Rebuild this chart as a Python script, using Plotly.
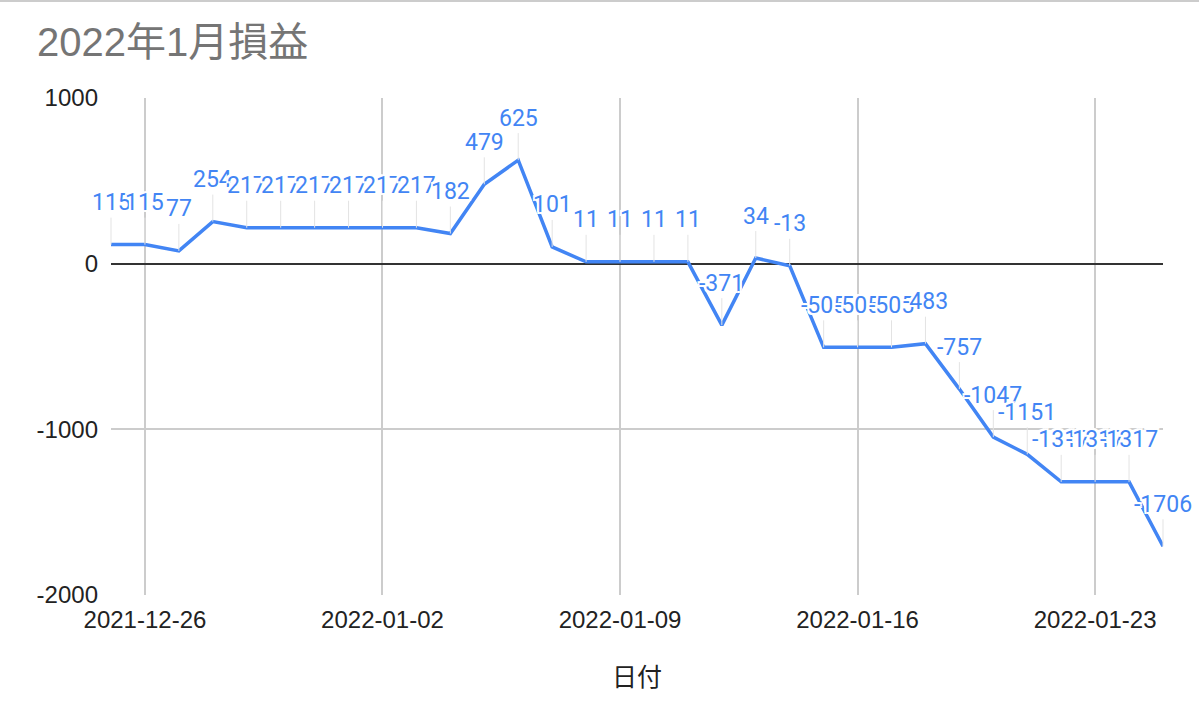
import plotly.graph_objects as go

# 日付と累計損益
dates = [
    "2021-12-25", "2021-12-26", "2021-12-27", "2021-12-28", "2021-12-29",
    "2021-12-30", "2021-12-31", "2022-01-01", "2022-01-02", "2022-01-03",
    "2022-01-04", "2022-01-05", "2022-01-06", "2022-01-07", "2022-01-08",
    "2022-01-09", "2022-01-10", "2022-01-11", "2022-01-12", "2022-01-13",
    "2022-01-14", "2022-01-15", "2022-01-16", "2022-01-17", "2022-01-18",
    "2022-01-19", "2022-01-20", "2022-01-21", "2022-01-22", "2022-01-23",
    "2022-01-24", "2022-01-25",
]
pnl = [
    115, 115, 77, 254, 217,
    217, 217, 217, 217, 217,
    182, 479, 625, 101, 11,
    11, 11, 11, -371, 34,
    -13, -505, -505, -505, -483,
    -757, -1047, -1151, -1317, -1317,
    -1317, -1706,
]

y_ticks = [1000, 0, -1000, -2000]
y_tick_labels = ["1000", "0", "-1000", "-2000"]

title_text = "2022年1月損益"
x_title = "日付"

BLUE = "#4285F4"
BASE_FONT = "Liberation Sans, Arial, Noto Sans CJK JP, sans-serif"
HALO = ("2px 0 0 white, -2px 0 0 white, 0 2px 0 white, 0 -2px 0 white, "
        "2px 2px 0 white, -2px -2px 0 white, 2px -2px 0 white, -2px 2px 0 white")

fig = go.Figure()

fig.add_trace(go.Scatter(
    x=dates,
    y=pnl,
    mode="lines",
    line=dict(color=BLUE, width=3.5),
    hoverinfo="x+y",
    showlegend=False,
))

# データラベル（引き出し線つき）
annotations = []
for d, v in zip(dates, pnl):
    annotations.append(dict(
        x=d, y=v, xref="x", yref="y",
        text=str(v),
        showarrow=True, arrowhead=0, arrowwidth=1, arrowcolor="#e3e3e3",
        ax=0, ay=-42, standoff=0,
        font=dict(family="Roboto, sans-serif", size=23, color=BLUE, shadow=HALO),
    ))

fig.update_layout(
    width=1199,
    height=724,
    margin=dict(l=111, r=36, t=98, b=129),
    paper_bgcolor="white",
    plot_bgcolor="white",
    font=dict(family=BASE_FONT, size=24, color="#222222"),
    title=dict(
        text=title_text,
        x=37 / 1199, xref="container", xanchor="left",
        y=1 - 42 / 724, yref="container", yanchor="middle",
        font=dict(family=BASE_FONT, size=40, color="#757575"),
    ),
    xaxis=dict(
        type="date",
        range=["2021-12-25", "2022-01-25"],
        tick0="2021-12-26",
        dtick=7 * 24 * 3600 * 1000,
        tickformat="%Y-%m-%d",
        showgrid=True,
        gridcolor="#cccccc",
        gridwidth=1.5,
        showline=False,
        zeroline=False,
        ticklabelstandoff=8,
        title=dict(text=x_title, standoff=36, font=dict(size=25, color="#222222")),
    ),
    yaxis=dict(
        range=[-2000, 1000],
        tickvals=y_ticks,
        ticktext=y_tick_labels,
        showgrid=True,
        gridcolor="#cccccc",
        gridwidth=1.5,
        zeroline=True,
        zerolinecolor="#333333",
        zerolinewidth=1.5,
        showline=False,
        ticklabelstandoff=12,
    ),
    annotations=annotations,
    shapes=[dict(
        type="line", xref="paper", yref="paper",
        x0=-111 / 1051, x1=1088 / 1051,
        y0=1 + 97 / 497, y1=1 + 97 / 497,
        line=dict(color="#cccccc", width=2),
    )],
)

fig.write_html(
    "out.html",
    config={"displayModeBar": False},
    post_script="document.body.style.margin='0';",
)
